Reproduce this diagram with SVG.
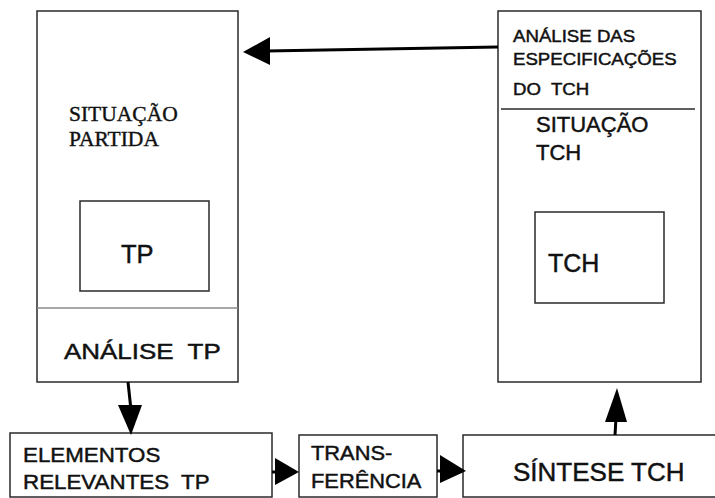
<svg xmlns="http://www.w3.org/2000/svg" width="715" height="498" viewBox="0 0 715 498">
<style>
  .box { fill: #ffffff; stroke: #2a2a2a; stroke-width: 1.5; }
  .div { stroke: #2a2a2a; stroke-width: 1.5; }
  .divg { stroke: #8a8a8a; stroke-width: 1.5; }
  .sans { font-family: "Liberation Sans", Arial, sans-serif; fill: #111; stroke: #111; stroke-width: 0.45; }
  .serif { font-family: "Liberation Serif", "Times New Roman", serif; fill: #111; stroke: #111; stroke-width: 0.4; }
  .conn line { stroke: #000; stroke-width: 3; }
  .conn polygon { fill: #000; stroke: none; }
</style>
<rect width="715" height="498" fill="#ffffff"/>

<g id="situacao-partida">
  <rect class="box" x="37" y="11" width="201" height="371"/>
  <line class="divg" x1="37" y1="308" x2="238" y2="308"/>
  <text class="serif" x="69" y="121" font-size="21.5">SITUAÇÃO</text>
  <text class="serif" x="69" y="146" font-size="21.5">PARTIDA</text>
  <text class="sans" font-size="22" transform="translate(64,359) scale(1.18,1)" xml:space="preserve">ANÁLISE  TP</text>
</g>

<g id="tp">
  <rect class="box" x="80" y="201" width="129" height="90"/>
  <text class="sans" x="121" y="263" font-size="25.5">TP</text>
</g>

<g id="situacao-tch">
  <rect class="box" x="498" y="11" width="203" height="371"/>
  <line class="div" x1="501" y1="109" x2="695" y2="109"/>
  <text class="sans" font-size="16.5" transform="translate(513,42) scale(1.13,1)">ANÁLISE DAS</text>
  <text class="sans" font-size="16.5" transform="translate(513,65) scale(1.13,1)">ESPECIFICAÇÕES</text>
  <text class="sans" font-size="16.5" transform="translate(513,95) scale(1.13,1)" xml:space="preserve">DO  TCH</text>
  <text class="sans" x="536" y="132" font-size="22">SITUAÇÃO</text>
  <text class="sans" x="536" y="160" font-size="22">TCH</text>
</g>

<g id="tch">
  <rect class="box" x="535" y="212" width="129" height="91"/>
  <text class="sans" x="548" y="272" font-size="25">TCH</text>
</g>

<g id="elementos">
  <rect class="box" x="10" y="433" width="262" height="64"/>
  <text class="sans" font-size="20.5" transform="translate(23,462) scale(1.09,1)">ELEMENTOS</text>
  <text class="sans" font-size="20.5" transform="translate(23,489) scale(1.09,1)" xml:space="preserve">RELEVANTES  TP</text>
</g>

<g id="transferencia">
  <rect class="box" x="299" y="435" width="138" height="62"/>
  <text class="sans" font-size="19.5" transform="translate(311,460) scale(1.12,1)">TRANS-</text>
  <text class="sans" font-size="19.5" transform="translate(311,488) scale(1.12,1)">FERÊNCIA</text>
</g>

<g id="sintese">
  <rect class="box" x="463" y="435" width="260" height="62"/>
  <text class="sans" font-size="25.5" transform="translate(513,481) scale(1.02,1)">SÍNTESE TCH</text>
</g>

<g id="connectors" class="conn">
  <line x1="498" y1="47" x2="266" y2="51"/>
  <polygon points="243,52 270,37 270,65"/>
  <line x1="128" y1="382" x2="131" y2="410"/>
  <polygon points="131,435 118,405 142,405"/>
  <line x1="272" y1="472" x2="278" y2="472"/>
  <polygon points="299,472 275,458 275,485"/>
  <line x1="437" y1="471" x2="443" y2="471"/>
  <polygon points="466,471 440,455 440,483"/>
  <line x1="615" y1="435" x2="616" y2="418"/>
  <polygon points="617,388 605,422 627,422"/>
</g>
</svg>
